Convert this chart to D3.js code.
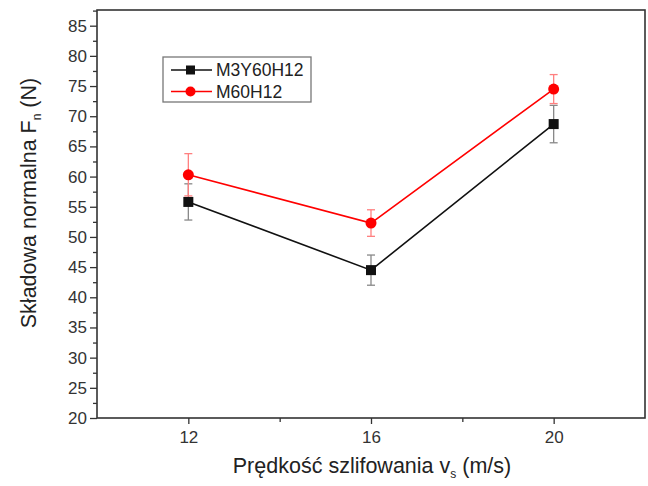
<!DOCTYPE html>
<html>
<head>
<meta charset="utf-8">
<script src="https://cdn.jsdelivr.net/npm/d3@7"></script>
<style>
  body { margin: 0; background: #fff; }
  svg { font-family: "Liberation Sans", Arial, sans-serif; }
</style>
</head>
<body>
<svg id="chart" width="648" height="486"></svg>
<script>
// speeds (m/s)
const speeds = [12, 16, 20];
// normal force component Fn (N)
const m3yValues = [55.8, 44.5, 68.7];
const m3yErrors = [3.0, 2.5, 3.1];
const m60Values = [60.3, 52.3, 74.5];
const m60Errors = [3.5, 2.2, 2.4];
const seriesNames = ["M3Y60H12", "M60H12"];
const xTicks = [12, 16, 20];
const xMinorTicks = [14, 18];
const yTicks = [20, 25, 30, 35, 40, 45, 50, 55, 60, 65, 70, 75, 80, 85];
const yMinorTicks = [22.5, 27.5, 32.5, 37.5, 42.5, 47.5, 52.5, 57.5, 62.5, 67.5, 72.5, 77.5, 82.5, 87.5];

const margin = { top: 10, right: 3, bottom: 68, left: 97 };
const width = 648, height = 486;
const innerWidth = width - margin.left - margin.right;
const innerHeight = height - margin.top - margin.bottom;

const svg = d3.select("#chart");
const g = svg.append("g")
  .attr("transform", `translate(${margin.left},${margin.top})`);

const x = d3.scaleLinear().domain([10, 22]).range([0, innerWidth]);
const y = d3.scaleLinear().domain([20, 87.6]).range([innerHeight, 0]);

const axisColor = "#333";

// minor ticks
g.append("g")
  .attr("transform", `translate(0,${innerHeight})`)
  .call(d3.axisBottom(x).tickValues(xMinorTicks).tickSize(4))
  .call(a => a.select(".domain").remove())
  .call(a => a.selectAll("text").remove());
g.append("g")
  .call(d3.axisLeft(y).tickValues(yMinorTicks).tickSize(4))
  .call(a => a.select(".domain").remove())
  .call(a => a.selectAll("text").remove());

// major axes
g.append("g")
  .attr("transform", `translate(0,${innerHeight})`)
  .call(d3.axisBottom(x).tickValues(xTicks).tickSize(6).tickPadding(7))
  .call(a => a.select(".domain").remove())
  .selectAll("text").attr("font-size", 17).attr("fill", axisColor);
g.append("g")
  .call(d3.axisLeft(y).tickValues(yTicks).tickSize(7).tickPadding(3))
  .call(a => a.select(".domain").remove())
  .selectAll("text").attr("font-size", 17).attr("fill", axisColor);

g.selectAll(".tick line").attr("stroke", axisColor).attr("stroke-width", 1.3);

// frame
g.append("rect")
  .attr("width", innerWidth).attr("height", innerHeight)
  .attr("fill", "none").attr("stroke", axisColor).attr("stroke-width", 1.6);

// series
const series = [
  { name: seriesNames[0], values: m3yValues, errors: m3yErrors, color: "#111", errColor: "#888", shape: "square" },
  { name: seriesNames[1], values: m60Values, errors: m60Errors, color: "#ff0000", errColor: "#ff8080", shape: "circle" }
];

const line = d3.line().x(d => x(d.x)).y(d => y(d.v));

series.forEach(s => {
  const pts = speeds.map((sp, i) => ({ x: sp, v: s.values[i], e: s.errors[i] }));
  const sg = g.append("g");

  // error bars
  pts.forEach(p => {
    const cx = x(p.x);
    sg.append("line")
      .attr("x1", cx).attr("x2", cx)
      .attr("y1", y(p.v + p.e)).attr("y2", y(p.v - p.e))
      .attr("stroke", s.errColor).attr("stroke-width", 1.3);
    [p.v + p.e, p.v - p.e].forEach(v => {
      sg.append("line")
        .attr("x1", cx - 4).attr("x2", cx + 4)
        .attr("y1", y(v)).attr("y2", y(v))
        .attr("stroke", s.errColor).attr("stroke-width", 1.3);
    });
  });

  sg.append("path")
    .datum(pts)
    .attr("d", line)
    .attr("fill", "none")
    .attr("stroke", s.color)
    .attr("stroke-width", 1.6);

  pts.forEach(p => {
    if (s.shape === "square") {
      sg.append("rect")
        .attr("x", x(p.x) - 5).attr("y", y(p.v) - 5)
        .attr("width", 10).attr("height", 10)
        .attr("fill", s.color);
    } else {
      sg.append("circle")
        .attr("cx", x(p.x)).attr("cy", y(p.v)).attr("r", 5.5)
        .attr("fill", s.color);
    }
  });
});

// legend
const legend = svg.append("g").attr("transform", "translate(163,57)");
legend.append("rect")
  .attr("width", 148).attr("height", 45)
  .attr("fill", "#fff").attr("stroke", "#777").attr("stroke-width", 1.3);
series.forEach((s, i) => {
  const ly = 13 + i * 21.5;
  legend.append("line")
    .attr("x1", 8).attr("x2", 49).attr("y1", ly).attr("y2", ly)
    .attr("stroke", s.color).attr("stroke-width", 1.6);
  if (s.shape === "square") {
    legend.append("rect").attr("x", 23).attr("y", ly - 4.5).attr("width", 9).attr("height", 9).attr("fill", s.color);
  } else {
    legend.append("circle").attr("cx", 27.5).attr("cy", ly).attr("r", 5).attr("fill", s.color);
  }
  legend.append("text")
    .attr("x", 53).attr("y", ly).attr("dy", "0.36em")
    .attr("font-size", 17.5).attr("fill", "#222")
    .text(s.name);
});

// axis titles
const xLabel = svg.append("text")
  .attr("x", 372).attr("y", 473)
  .attr("text-anchor", "middle")
  .attr("font-size", 21.5).attr("fill", "#222");
xLabel.append("tspan").text("Prędkość szlifowania v");
xLabel.append("tspan").attr("font-size", 12).attr("baseline-shift", "-5").text("s");
xLabel.append("tspan").text(" (m/s)");

const yLabel = svg.append("text")
  .attr("transform", "translate(36,203) rotate(-90)")
  .attr("text-anchor", "middle")
  .attr("font-size", 21.5).attr("fill", "#222");
yLabel.append("tspan").text("Składowa normalna F");
yLabel.append("tspan").attr("font-size", 12).attr("baseline-shift", "-5").text("n");
yLabel.append("tspan").text(" (N)");
</script>
</body>
</html>
